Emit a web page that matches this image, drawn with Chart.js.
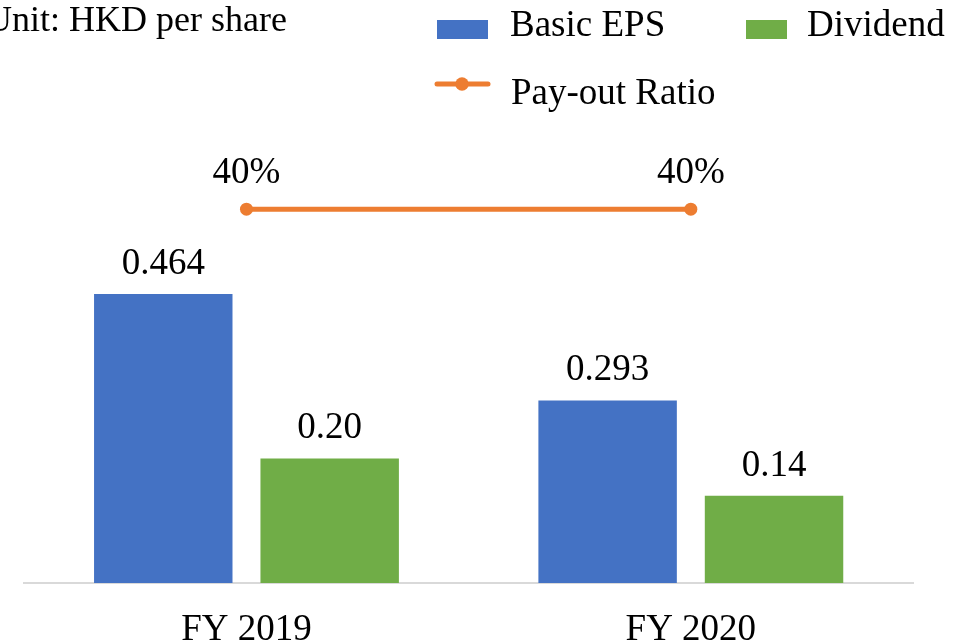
<!DOCTYPE html>
<html>
<head>
<meta charset="utf-8">
<script src="https://cdn.jsdelivr.net/npm/chart.js@4.4.1/dist/chart.umd.min.js"></script>
<style>
  html, body { margin: 0; padding: 0; background: #fff; overflow: hidden; }
  #wrap { position: absolute; left: 0; top: 0; width: 963px; height: 700px; }
</style>
</head>
<body>
<div id="wrap"><canvas id="chart"></canvas></div>
<script>
// ---- data ----
const years = ['FY 2019', 'FY 2020'];
const basicEps = [0.464, 0.293];
const dividend = [0.20, 0.14];
const payoutRatio = [0.40, 0.40];
const epsLabels = ['0.464', '0.293'];
const divLabels = ['0.20', '0.14'];
const ratioLabels = ['40%', '40%'];

const FONT = '"Liberation Serif", "Times New Roman", serif';
const BLUE = '#4472C4', GREEN = '#70AD47', ORANGE = '#ED7D31';

// value labels above bars and points
const valueLabels = {
  id: 'valueLabels',
  afterDatasetsDraw(chart) {
    const ctx = chart.ctx;
    ctx.save();
    ctx.font = '37px ' + FONT;
    ctx.fillStyle = '#000';
    ctx.textAlign = 'center';
    ctx.textBaseline = 'alphabetic';
    const sets = [[0, epsLabels, 20], [1, divLabels, 20], [2, ratioLabels, 26]];
    sets.forEach(([di, labels, off]) => {
      chart.getDatasetMeta(di).data.forEach((el, i) => {
        ctx.fillText(labels[i], el.x, el.y - off);
      });
    });
    ctx.restore();
  }
};

// unit note + legend, drawn at the top
const header = {
  id: 'header',
  afterDraw(chart) {
    const ctx = chart.ctx;
    ctx.save();
    ctx.fillStyle = '#000';
    ctx.textBaseline = 'alphabetic';
    ctx.textAlign = 'left';
    ctx.font = '36px ' + FONT;
    ctx.fillText('Unit: HKD per share', -14, 31);

    ctx.font = '37px ' + FONT;
    ctx.fillStyle = BLUE;
    ctx.fillRect(437, 20, 51, 19);
    ctx.fillStyle = '#000';
    ctx.fillText('Basic EPS', 510, 36);

    ctx.fillStyle = GREEN;
    ctx.fillRect(746, 20, 41, 19);
    ctx.fillStyle = '#000';
    ctx.fillText('Dividend', 807, 36);

    ctx.strokeStyle = ORANGE;
    ctx.lineWidth = 5;
    ctx.lineCap = 'round';
    ctx.beginPath();
    ctx.moveTo(437, 84);
    ctx.lineTo(488, 84);
    ctx.stroke();
    ctx.fillStyle = ORANGE;
    ctx.beginPath();
    ctx.arc(462, 84, 6.7, 0, Math.PI * 2);
    ctx.fill();
    ctx.fillStyle = '#000';
    ctx.fillText('Pay-out Ratio', 511, 104);
    ctx.restore();
  }
};

new Chart(document.getElementById('chart'), {
  data: {
    labels: years,
    datasets: [
      {
        type: 'bar', label: 'Basic EPS', data: basicEps,
        backgroundColor: BLUE, yAxisID: 'y', order: 1,
        categoryPercentage: 0.749, barPercentage: 0.832
      },
      {
        type: 'bar', label: 'Dividend', data: dividend,
        backgroundColor: GREEN, yAxisID: 'y', order: 1,
        categoryPercentage: 0.749, barPercentage: 0.832
      },
      {
        type: 'line', label: 'Pay-out Ratio', data: payoutRatio,
        borderColor: ORANGE, backgroundColor: ORANGE, borderWidth: 5,
        pointRadius: 6.5, pointHoverRadius: 6.5, pointBorderWidth: 0,
        yAxisID: 'y1', order: 0, clip: false
      }
    ]
  },
  options: {
    responsive: true,
    maintainAspectRatio: false,
    animation: false,
    layout: { autoPadding: false, padding: { left: 24.3, right: 50, top: 209.2, bottom: 22.6 } },
    plugins: { legend: { display: false }, tooltip: { enabled: false } },
    scales: {
      x: {
        grid: { display: false, drawTicks: false },
        border: { display: true, color: '#D9D9D9', width: 2 },
        ticks: { color: '#000', font: { family: FONT, size: 37 }, padding: 25 }
      },
      y: { display: false, min: 0, max: 0.6 },
      y1: { display: false, min: 0, max: 0.4 }
    }
  },
  plugins: [valueLabels, header]
});
</script>
</body>
</html>
